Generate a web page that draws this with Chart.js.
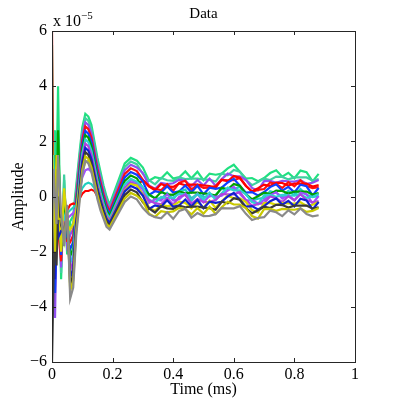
<!DOCTYPE html>
<html>
<head>
<meta charset="utf-8">
<script src="https://cdn.jsdelivr.net/npm/chart.js@4.4.1/dist/chart.umd.min.js"></script>
<style>
  html, body { margin: 0; padding: 0; background: #fff; }
  #wrap { width: 393px; height: 408px; }
</style>
</head>
<body>
<div id="wrap"><canvas id="chart" width="393" height="408"></canvas></div>
<script>
// time axis (ms)
const timeMs = [0, 0.005, 0.01, 0.015, 0.02, 0.03, 0.04, 0.05, 0.06, 0.07, 0.08, 0.09, 0.10, 0.11, 0.12, 0.13, 0.14, 0.15, 0.16, 0.17, 0.18, 0.19, 0.20,
  0.22, 0.24, 0.26, 0.28, 0.30, 0.32, 0.34, 0.36, 0.38, 0.40, 0.42, 0.44, 0.46, 0.48, 0.50, 0.52, 0.54, 0.56, 0.58, 0.60,
  0.62, 0.64, 0.66, 0.68, 0.70, 0.72, 0.74, 0.76, 0.78, 0.80, 0.82, 0.84, 0.86, 0.88];

// amplitude traces, in units of 1e-5
const trace01 = [5.5, 1.0, 2.4, 0.5, 4.0,
  -3.0, 0.6, -2.1, -0.9, -0.7, 0.4, 1.5, 2.5, 3.0, 2.9, 2.6, 2.0, 1.4, 0.9, 0.4, 0.0, -0.3, 0.0, 0.6, 1.2, 1.4, 1.3,
  1.05, 0.57, 0.70, 0.65, 0.88, 0.65, 0.70, 0.91, 0.66, 0.90, 0.59, 0.83, 0.79, 0.83, 1.02, 1.15, 0.90, 0.65, 0.67, 0.55, 0.67, 0.85, 0.95, 0.72, 0.86, 0.66, 0.94, 0.88, 0.55, 0.82];
const trace02 = [1.0, 2.4, -1.0, 0.8, 1.0,
  -2.77, 0.8, -1.93, -1.17, -0.95, 0.23, 1.33, 2.34, 2.84, 2.74, 2.44, 1.85, 1.26, 0.77, 0.29, -0.1, -0.39, -0.1, 0.49, 1.07, 1.27, 1.17,
  0.81, 0.59, 0.44, 0.67, 0.59, 0.57, 0.69, 0.63, 0.65, 0.65, 0.62, 0.60, 0.54, 0.83, 0.77, 0.96, 0.90, 0.60, 0.41, 0.52, 0.65, 0.60, 0.72, 0.71, 0.62, 0.69, 0.69, 0.69, 0.58, 0.63];
const trace03 = [-1.0, -2.0, -4.4, -1.0, 0.5,
  -2.57, 0.17, -1.78, -1.4, -1.17, 0.08, 1.18, 2.19, 2.69, 2.59, 2.29, 1.71, 1.13, 0.65, 0.18, -0.2, -0.46, -0.18, 0.38, 0.95, 1.15, 1.05,
  0.85, 0.40, 0.28, 0.49, 0.45, 0.48, 0.61, 0.57, 0.37, 0.60, 0.40, 0.65, 0.39, 0.63, 0.83, 0.73, 0.73, 0.60, 0.31, 0.22, 0.56, 0.57, 0.50, 0.57, 0.55, 0.54, 0.59, 0.46, 0.50, 0.60];
const trace04 = [6.0, -2.0, -2.5, 0.0, -1.2,
  -2.35, -0.05, -1.61, -1.66, -1.4, -0.09, 1.01, 2.04, 2.54, 2.44, 2.14, 1.57, 1.0, 0.52, 0.08, -0.3, -0.54, -0.27, 0.28, 0.82, 1.02, 0.92,
  0.60, 0.37, 0.27, 0.23, 0.45, 0.21, 0.50, 0.57, 0.25, 0.42, 0.31, 0.32, 0.38, 0.60, 0.59, 0.59, 0.67, 0.39, 0.17, 0.24, 0.27, 0.51, 0.45, 0.31, 0.52, 0.37, 0.59, 0.38, 0.30, 0.34];
const trace05 = [0.5, -2.6, -3.5, -1.5, 0.0,
  -2.12, -0.28, -1.44, -1.92, -1.65, -0.26, 0.84, 1.88, 2.38, 2.28, 1.98, 1.42, 0.85, 0.39, -0.04, -0.4, -0.63, -0.37, 0.16, 0.69, 0.89, 0.79,
  0.54, 0.06, 0.19, 0.14, 0.37, 0.14, 0.19, 0.40, 0.15, 0.39, 0.08, 0.32, 0.28, 0.32, 0.51, 0.64, 0.39, 0.14, 0.16, 0.04, 0.16, 0.34, 0.44, 0.21, 0.35, 0.15, 0.43, 0.37, 0.04, 0.31];
const trace06 = [2.0, -1.0, 1.5, -0.5, 2.4,
  -1.91, -0.49, -1.28, -2.17, -1.88, -0.42, 0.68, 1.73, 2.23, 2.13, 1.83, 1.27, 0.72, 0.26, -0.15, -0.5, -0.71, -0.46, 0.05, 0.56, 0.76, 0.66,
  0.30, 0.08, -0.07, 0.16, 0.08, 0.06, 0.18, 0.12, 0.14, 0.14, 0.11, 0.09, 0.03, 0.32, 0.26, 0.45, 0.39, 0.09, -0.10, 0.01, 0.14, 0.09, 0.21, 0.20, 0.11, 0.18, 0.18, 0.18, 0.07, 0.12];
const trace07 = [-0.5, 1.5, -2.0, 0.8, -1.0,
  -1.69, -0.71, -1.12, -2.43, -2.12, -0.58, 0.52, 1.57, 2.07, 1.97, 1.67, 1.13, 0.58, 0.14, -0.25, -0.6, -0.79, -0.55, -0.05, 0.44, 0.64, 0.54,
  0.34, -0.11, -0.23, -0.02, -0.06, -0.03, 0.10, 0.06, -0.14, 0.09, -0.11, 0.14, -0.12, 0.12, 0.32, 0.22, 0.22, 0.09, -0.20, -0.29, 0.05, 0.06, -0.01, 0.06, 0.04, 0.03, 0.08, -0.05, -0.01, 0.09];
const trace08 = [0.0, -1.5, 0.5, -2.0, -0.5,
  -1.48, -0.92, -0.96, -2.68, -2.35, -0.74, 0.36, 1.42, 1.92, 1.82, 1.52, 0.98, 0.45, 0.01, -0.36, -0.7, -0.87, -0.64, -0.16, 0.31, 0.51, 0.41,
  0.09, -0.14, -0.24, -0.28, -0.06, -0.30, -0.01, 0.06, -0.26, -0.09, -0.20, -0.19, -0.13, 0.09, 0.08, 0.08, 0.16, -0.12, -0.34, -0.27, -0.24, 0.00, -0.06, -0.20, 0.01, -0.14, 0.08, -0.13, -0.21, -0.17];
const trace09 = [-2.0, 0.5, -3.0, 0.0, -1.5,
  -1.25, -1.15, -0.79, -2.94, -2.6, -0.91, 0.19, 1.26, 1.76, 1.66, 1.36, 0.83, 0.31, -0.12, -0.48, -0.8, -0.96, -0.73, -0.28, 0.18, 0.38, 0.28,
  0.03, -0.45, -0.32, -0.37, -0.14, -0.37, -0.32, -0.11, -0.36, -0.12, -0.43, -0.19, -0.23, -0.19, 0.00, 0.13, -0.12, -0.37, -0.35, -0.47, -0.35, -0.17, -0.07, -0.30, -0.16, -0.36, -0.08, -0.14, -0.47, -0.20];
const trace10 = [-6.0, -3.0, -1.0, -2.5, 0.0,
  -1.03, -1.37, -0.62, -3.2, -2.83, -1.08, 0.02, 1.11, 1.61, 1.51, 1.21, 0.69, 0.17, -0.25, -0.58, -0.9, -1.04, -0.82, -0.38, 0.05, 0.25, 0.15,
  -0.21, -0.43, -0.58, -0.35, -0.43, -0.45, -0.33, -0.39, -0.37, -0.37, -0.40, -0.42, -0.48, -0.19, -0.25, -0.06, -0.12, -0.42, -0.61, -0.50, -0.37, -0.42, -0.30, -0.31, -0.40, -0.33, -0.33, -0.33, -0.44, -0.39];
const trace11 = [1.5, 0.0, -2.0, 1.0, -0.8,
  -0.83, -1.57, -0.47, -3.43, -3.05, -1.23, -0.13, 0.96, 1.46, 1.36, 1.06, 0.55, 0.04, -0.37, -0.69, -1.0, -1.11, -0.91, -0.49, -0.07, 0.13, 0.03,
  -0.17, -0.62, -0.74, -0.53, -0.57, -0.54, -0.41, -0.45, -0.65, -0.42, -0.62, -0.37, -0.63, -0.39, -0.19, -0.29, -0.29, -0.42, -0.71, -0.80, -0.46, -0.45, -0.52, -0.45, -0.47, -0.48, -0.43, -0.56, -0.52, -0.42];
const trace12 = [-1.5, 1.0, 0.0, -1.0, 1.5,
  -0.6, -1.8, -0.3, -3.7, -3.3, -1.4, -0.3, 0.8, 1.3, 1.2, 0.9, 0.4, -0.1, -0.5, -0.8, -1.1, -1.2, -1.0, -0.6, -0.2, 0.0, -0.1,
  -0.42, -0.65, -0.75, -0.79, -0.57, -0.81, -0.52, -0.45, -0.77, -0.60, -0.71, -0.70, -0.64, -0.42, -0.43, -0.43, -0.35, -0.63, -0.85, -0.78, -0.75, -0.51, -0.57, -0.71, -0.50, -0.65, -0.43, -0.64, -0.72, -0.68];
// low-amplitude traces
const trace13 = [1.0, -2.5, 0.5, -1.0, -0.5,
  -0.8, -0.2, -0.5, -0.3, -0.25, -0.3, -0.1, 0.1, 0.2, 0.2, 0.25, 0.2, 0.0, -0.3, -0.6, -0.8, -0.9, -0.6, -0.2, 0.3, 0.5, 0.4,
  0.59, 0.37, 0.22, 0.45, 0.37, 0.35, 0.47, 0.41, 0.43, 0.43, 0.40, 0.38, 0.32, 0.61, 0.55, 0.74, 0.68, 0.38, 0.19, 0.30, 0.43, 0.38, 0.50, 0.49, 0.40, 0.47, 0.47, 0.47, 0.36, 0.41];
const trace14 = [0.5, 1.0, -1.5, 0.3, -0.8,
  -1.0, 0.0, -0.6, -0.5, -0.4, -0.3, 0.0, 0.3, 0.45, 0.5, 0.45, 0.3, 0.0, -0.3, -0.5, -0.7, -0.8, -0.6, -0.1, 0.3, 0.5, 0.45,
  0.28, 0.05, -0.05, -0.09, 0.13, -0.11, 0.18, 0.25, -0.07, 0.1, -0.01, 0.0, 0.06, 0.28, 0.27, 0.27, 0.35, 0.07, -0.15, -0.08, -0.05, 0.19, 0.13, -0.01, 0.2, 0.05, 0.27, 0.06, -0.02, 0.02];
const trace15 = [-1.5, -3.0, 1.0, -0.5, 0.3,
  -1.5, 0.2, -0.8, -0.7, -0.6, -0.4, 0.2, 0.7, 0.95, 1.0, 0.9, 0.6, 0.2, -0.2, -0.5, -0.8, -0.9, -0.7, -0.2, 0.3, 0.6, 0.5,
  0.25, -0.23, -0.10, -0.15, 0.08, -0.15, -0.10, 0.11, -0.14, 0.10, -0.21, 0.03, -0.01, 0.03, 0.22, 0.35, 0.10, -0.15, -0.13, -0.25, -0.13, 0.05, 0.15, -0.08, 0.06, -0.14, 0.14, 0.08, -0.25, 0.02];
const trace16 = [2.0, -1.5, -0.5, 1.5, 0.0,
  -2.0, 0.3, -1.0, -1.2, -1.0, -0.5, 0.3, 0.9, 1.25, 1.3, 1.15, 0.8, 0.35, -0.1, -0.45, -0.75, -0.95, -0.7, -0.25, 0.2, 0.45, 0.4,
  0.05, -0.40, -0.52, -0.31, -0.35, -0.32, -0.19, -0.23, -0.43, -0.20, -0.40, -0.15, -0.41, -0.17, 0.03, -0.07, -0.07, -0.20, -0.49, -0.58, -0.24, -0.23, -0.30, -0.23, -0.25, -0.26, -0.21, -0.34, -0.30, -0.20];

const xTicks = [0, 0.2, 0.4, 0.6, 0.8, 1];
const yTicks = [-6, -4, -2, 0, 2, 4, 6];

const traces = [trace12, trace11, trace10, trace09, trace16, trace08, trace07, trace15, trace06, trace14, trace05, trace13, trace04, trace03, trace02, trace01];
const traceColors = ['#8a8a8a', '#c8c800', '#3a3a3a', '#1020d0', '#d8d800', '#b040e0', '#30d0d0', '#a050ff',
  '#00a000', '#20d0c0', '#1040ff', '#ff0000', '#ff1010', '#9050f0', '#40d0a0', '#20e080'];

const FONT = '"Liberation Serif", "Times New Roman", serif';

const frame = {
  id: 'frame',
  afterDatasetsDraw(chart) {
    const { ctx, chartArea: a, scales: { x, y } } = chart;
    ctx.save();
    ctx.strokeStyle = '#262626';
    ctx.lineWidth = 1;
    ctx.strokeRect(a.left + 0.5, a.top + 0.5, a.right - a.left, a.bottom - a.top);
    ctx.beginPath();
    xTicks.slice(1, -1).forEach(v => {
      const px = Math.round(x.getPixelForValue(v)) + 0.5;
      ctx.moveTo(px, a.bottom); ctx.lineTo(px, a.bottom - 4);
      ctx.moveTo(px, a.top); ctx.lineTo(px, a.top + 4);
    });
    yTicks.slice(1, -1).forEach(v => {
      const py = Math.round(y.getPixelForValue(v)) + 0.5;
      ctx.moveTo(a.left, py); ctx.lineTo(a.left + 4, py);
      ctx.moveTo(a.right, py); ctx.lineTo(a.right - 4, py);
    });
    ctx.stroke();
    ctx.restore();
  },
  afterDraw(chart) {
    const { ctx, chartArea: a } = chart;
    const cx = (a.left + a.right) / 2;
    ctx.save();
    ctx.fillStyle = '#000';
    ctx.textAlign = 'center';
    ctx.textBaseline = 'alphabetic';
    ctx.font = '15px ' + FONT;
    ctx.fillText('Data', cx, 18);
    ctx.font = '16px ' + FONT;
    ctx.fillText('Time (ms)', cx, 394);
    ctx.textAlign = 'left';
    ctx.fillText('x 10', a.left + 1, 26);
    const w = ctx.measureText('x 10').width;
    ctx.font = '11px ' + FONT;
    ctx.fillText('\u22125', a.left + 1 + w, 19);
    ctx.font = '16px ' + FONT;
    ctx.translate(23, (a.top + a.bottom) / 2);
    ctx.rotate(-Math.PI / 2);
    ctx.textAlign = 'center';
    ctx.fillText('Amplitude', 0, 0);
    ctx.restore();
  }
};

new Chart(document.getElementById('chart'), {
  type: 'line',
  data: {
    datasets: traces.map((tr, i) => ({
      data: timeMs.map((t, j) => ({ x: t, y: tr[j] })),
      borderColor: traceColors[i],
      borderWidth: 2.2,
      pointRadius: 0,
      tension: 0,
      fill: false
    }))
  },
  options: {
    responsive: false,
    animation: false,
    devicePixelRatio: 1,
    layout: { padding: { top: 31, right: 38, bottom: 0, left: 0 } },
    plugins: { legend: { display: false }, title: { display: false }, tooltip: { enabled: false } },
    scales: {
      x: {
        type: 'linear', min: 0, max: 1,
        afterFit(s) { s.height = 46; },
        afterBuildTicks(s) { s.ticks = xTicks.map(v => ({ value: v })); },
        grid: { display: false, drawTicks: false },
        border: { display: false },
        ticks: {
          padding: 3, color: '#000', font: { family: FONT, size: 16 }, maxRotation: 0, autoSkip: false,
          callback: v => (v === 0 || v === 1) ? String(v) : v.toFixed(1)
        }
      },
      y: {
        type: 'linear', min: -6, max: 6,
        afterFit(s) { s.width = 52; },
        afterBuildTicks(s) { s.ticks = yTicks.map(v => ({ value: v })); },
        grid: { display: false, drawTicks: false },
        border: { display: false },
        ticks: {
          padding: 5, color: '#000', font: { family: FONT, size: 16 }, autoSkip: false,
          callback: v => v < 0 ? '\u2212' + Math.abs(v) : String(v)
        }
      }
    }
  },
  plugins: [frame]
});
</script>
</body>
</html>
